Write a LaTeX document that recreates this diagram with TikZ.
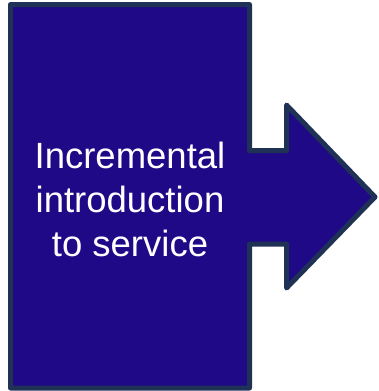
\documentclass[tikz,border=0pt]{standalone}
\usepackage{fontspec}
\setmainfont{Liberation Sans}
\definecolor{calloutfill}{RGB}{31,9,135}
\definecolor{calloutline}{RGB}{31,50,85}
\begin{document}
\begin{tikzpicture}[x=1pt,y=-1pt,
  callout/.style={fill=calloutfill,draw=calloutline,line width=5pt,line join=round},
  label/.style={text=white,align=center,font=\fontsize{36.5}{44}\selectfont}]
\useasboundingbox (0,0) rectangle (379,391);
\draw[callout] (10.5,4.5) -- (249.5,4.5) -- (249.5,150.5) -- (286.5,150.5) -- (286.5,105)
  -- (375,197) -- (286.5,288) -- (286.5,244) -- (249.5,244) -- (249.5,388) -- (10.5,388) -- cycle;
\node[label] (txt) at (130,199) {Incremental\\introduction\\to service};
\end{tikzpicture}
\end{document}
